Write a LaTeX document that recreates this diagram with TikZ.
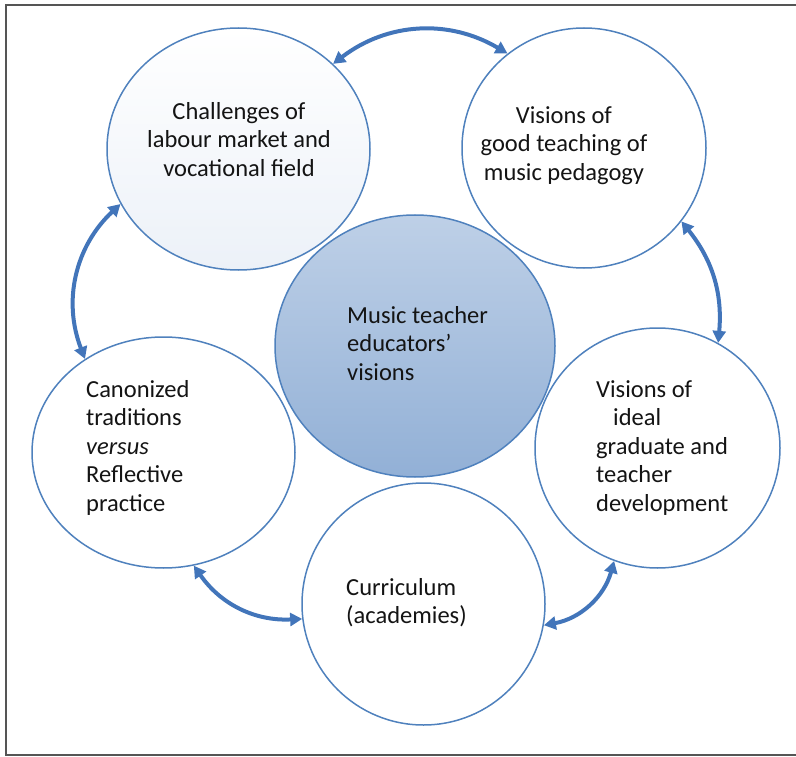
\documentclass[tikz,border=0pt]{standalone}
\usepackage{fontspec}
\setmainfont{Carlito}
\usepackage{tikz}
\usetikzlibrary{shapes.geometric,arrows.meta}

\definecolor{ringblue}{RGB}{79,129,189}
\definecolor{arrowblue}{RGB}{66,117,186}
\definecolor{hubtop}{RGB}{190,208,231}
\definecolor{hubbottom}{RGB}{146,176,214}
\definecolor{paleblue}{RGB}{236,241,248}
\definecolor{framegray}{RGB}{85,85,85}

\begin{document}
\begin{tikzpicture}[x=1pt,y=-1pt,
    ring/.style={ellipse, draw=ringblue, line width=1.5pt, inner sep=0pt},
    words/.style={font=\fontsize{24.5}{28.5}\selectfont, text=black!92, inner sep=0pt},
    link/.style={draw=arrowblue, line width=4pt, {Triangle[length=12pt,width=13pt]}-{Triangle[length=12pt,width=13pt]}}]

\useasboundingbox (0,0) rectangle (796,757);
\draw[framegray, line width=1.5pt] (796,5) -- (6,5) -- (6,755) -- (796,755);

% the five outer rings
\node[ring, minimum width=263pt, minimum height=242pt, top color=white, bottom color=paleblue] (chal) at (238.5,149) {};
\node[ring, minimum width=244pt, minimum height=240pt, fill=white] (good) at (584,148) {};
\node[ring, minimum width=245pt, minimum height=240pt, fill=white] (ideal) at (657.5,448) {};
\node[ring, minimum width=243pt, minimum height=242pt, fill=white] (curr) at (423.5,604) {};
\node[ring, minimum width=263pt, minimum height=231pt, fill=white] (canon) at (163.5,452.5) {};

% hub
\node[ring, minimum width=280pt, minimum height=262pt, top color=hubtop, bottom color=hubbottom] (hub) at (415,346) {};

% texts
\node[words, align=center, anchor=north] (chaltext) at (239,102) {Challenges of\\labour market and\\vocational field};
\node[words, align=center, anchor=north] (goodtext) at (564,106) {Visions of\\good teaching of\\music pedagogy};
\node[words, align=left, anchor=north west] (idealtext) at (596,380) {Visions of\\\hspace*{17pt}ideal\\graduate and\\teacher\\development};
\node[words, align=left, anchor=north west] (currtext) at (346,578) {Curriculum\\(academies)};
\node[words, align=left, anchor=north west] (canontext) at (86,380) {Canonized\\traditions\\\textit{versus}\\Reflective\\practice};
\node[words, align=left, anchor=north west] (hubtext) at (347,306) {Music teacher\\educators’\\visions};

% links round the ring
\draw[link] (chal.42) to[bend left=34] (good.129);
\draw[link] (good.-37) to[bend left=22] (ideal.60);
\draw[link] (ideal.-111) to[bend left=32] (curr.-10);
\draw[link] (canon.-75) to[bend right=29] (curr.187);
\draw[link] (chal.205) to[bend right=34] (canon.130);

\end{tikzpicture}
\end{document}
